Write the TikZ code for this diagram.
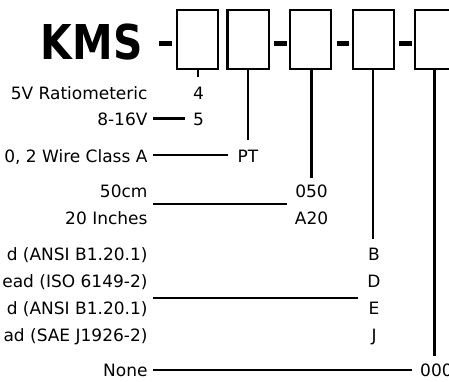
\documentclass[tikz,border=0pt]{standalone}
\usepackage{fontspec}
\setmainfont{DejaVu Sans}
\begin{document}
\begin{tikzpicture}[x=1pt,y=-1pt,
  txt/.style={font=\fontsize{17}{20}\selectfont, inner sep=0pt, text height=14pt, text depth=0pt},
  desclab/.style={txt, anchor=base east},
  codelab/.style={txt, anchor=base},
  partbox/.style={draw, line width=2.3pt, minimum width=41.3pt, minimum height=58.7pt, inner sep=0pt},
  conn/.style={line width=2.2pt}]
\useasboundingbox (0,0) rectangle (449,381);
\clip (0,0) rectangle (449,381);

% title
\node[anchor=base east, inner sep=0pt, font=\fontsize{48}{48}\selectfont\bfseries] (kms) at (142.7,59.3) {\scalebox{0.85}[1]{KMS}};

% boxes
\node[partbox] (b1) at (197.65,39.65) {};
\node[partbox] (b2) at (248,39.65) {};
\node[partbox] (b3) at (310.5,39.65) {};
\node[partbox] (b4) at (373.35,39.65) {};
\node[partbox] (b5) at (435.95,39.65) {};

% dashes
\fill (158.5,41.3) rectangle (171.7,45.7);
\fill (274,41.3) rectangle (286.7,45.7);
\fill (336.7,41.3) rectangle (349.3,45.7);
\fill (399.3,41.3) rectangle (411.7,45.7);

% left descriptions
\node[desclab] (l1) at (147.7,99.5) {5V Ratiometeric};
\node[desclab] (l2) at (147.7,125.5) {8-16V};
\node[desclab] (l3) at (147.7,162.3) {0, 2 Wire Class A};
\node[desclab] (l4) at (147.7,197.3) {50cm};
\node[desclab] (l5) at (147.7,224.3) {20 Inches};
\node[desclab] (l6) at (147.7,260) {d (ANSI B1.20.1)};
\node[desclab] (l7) at (147.7,287.3) {ead (ISO 6149-2)};
\node[desclab] (l8) at (147.7,314) {d (ANSI B1.20.1)};
\node[desclab] (l9) at (147.7,341.3) {ad (SAE J1926-2)};
\node[desclab] (l10) at (147.7,376.7) {None};

% codes
\node[codelab] (c4) at (198.5,99.5) {4};
\node[codelab] (c5) at (198.5,125.5) {5};
\node[codelab] (cPT) at (248,162.3) {PT};
\node[codelab] (c050) at (311.5,197.3) {050};
\node[codelab] (cA20) at (311.5,224.3) {A20};
\node[codelab] (cB) at (374,260) {B};
\node[codelab] (cD) at (374,287.3) {D};
\node[codelab] (cE) at (374,314) {E};
\node[codelab] (cJ) at (374,341.3) {J};
\node[txt, anchor=base west] (c000) at (420,376.7) {000};

% vertical connectors
\draw[conn] (b1.south) -- ++(0,7.3);
\draw[conn] (b2.south) -- ++(0,70.3);
\draw[conn] ([xshift=1pt]b3.south) -- ++(0,107.7);
\draw[conn] (b4.south) -- ++(0,169.3);
\draw[conn] ([xshift=-1.5pt]b5.south) -- ++(0,286);

% horizontal connectors
\coordinate (m1) at (153.3,204);
\coordinate (m2) at (287.3,204);
\coordinate (f1) at (152.7,298.3);
\coordinate (f2) at (357.7,298.3);
\draw[conn] ([xshift=5.6pt]l2.east) -- ([xshift=-8pt]c5.west);
\draw[conn] ([xshift=5.6pt]l3.east) -- ([xshift=-9.4pt]cPT.west);
\draw[conn] (m1) -- (m2);
\draw[conn] (f1) -- (f2);
\draw[conn] ([xshift=5pt]l10.east) -- ([xshift=-7.7pt]c000.west);
\end{tikzpicture}
\end{document}
